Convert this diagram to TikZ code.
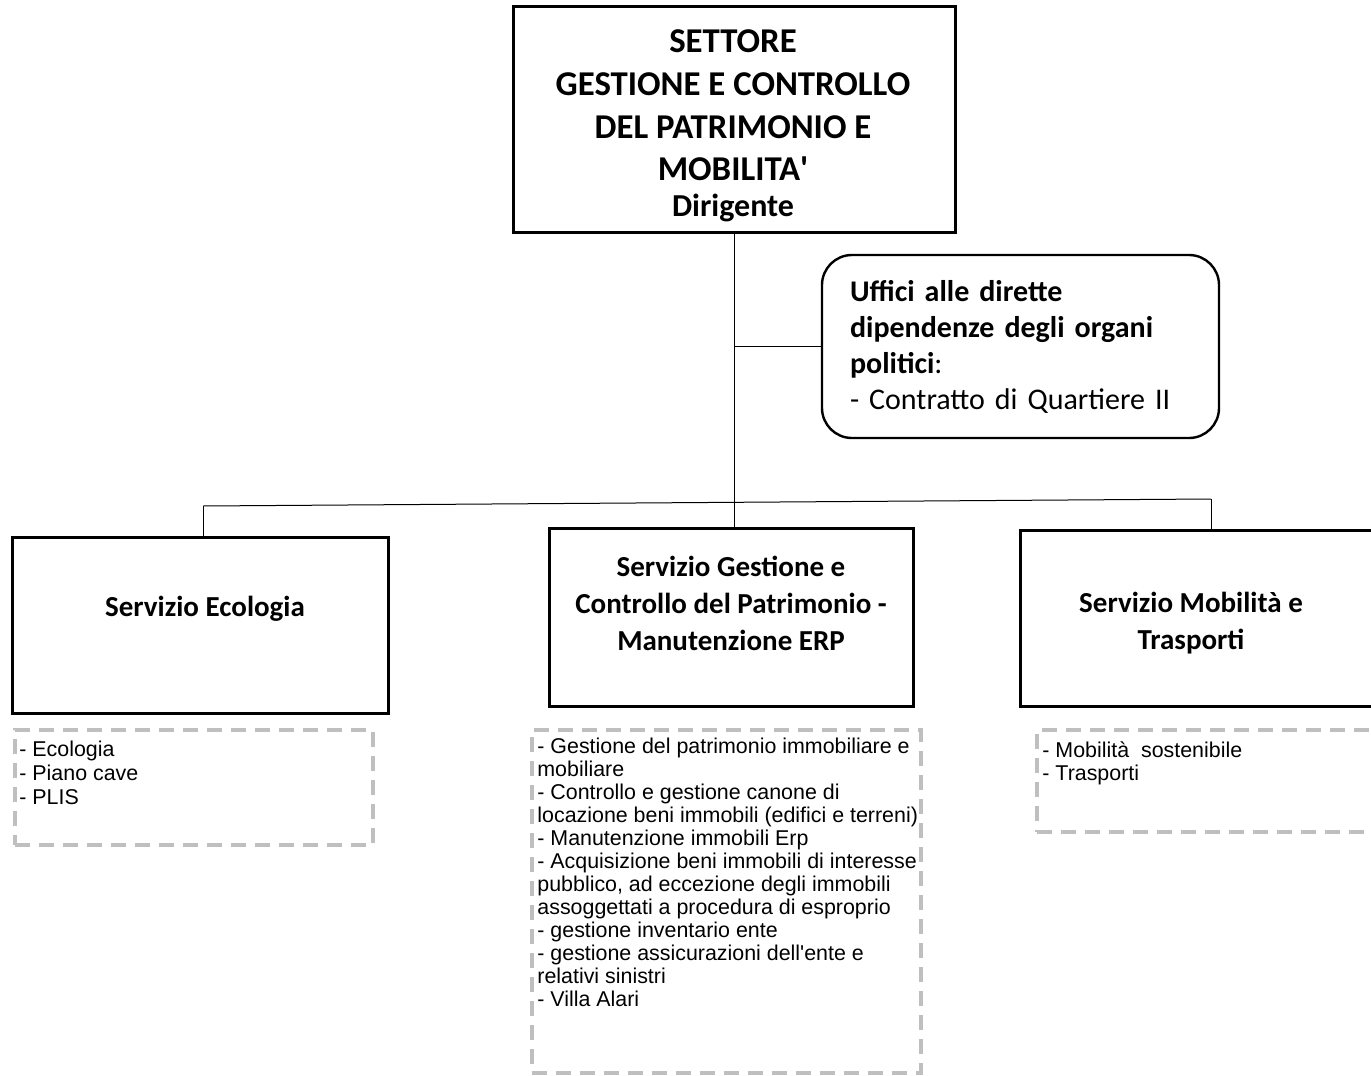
\documentclass[tikz,border=0pt]{standalone}
\usepackage{fontspec}
\setmainfont{Carlito}
\newfontfamily\arialfont{Liberation Sans}
\usetikzlibrary{positioning}

\definecolor{dashgray}{RGB}{191,191,191}

\tikzset{
  topbox/.style={draw, line width=1.5pt, minimum width=221pt, minimum height=113pt, inner sep=0pt},
  toptxt/.style={align=center, inner sep=0pt, font=\bfseries\fontsize{17.4}{21.3}\selectfont},
  uffbox/.style={draw, line width=1.2pt, rounded corners=15pt, inner xsep=14pt, inner ysep=0pt,
    text width=170.5pt, minimum height=91.5pt, align=left, font=\fontsize{15}{18}\selectfont},
  servbox/.style={draw, line width=1.5pt, minimum height=88pt, inner sep=0pt},
  servtxt/.style={align=center, inner sep=0pt, font=\bfseries\fontsize{14.5}{18.5}\selectfont},
  listbox/.style={draw=dashgray, line width=2pt, dash pattern=on 7.5pt off 4.5pt, inner sep=0pt},
  listtxt/.style={anchor=north west, align=left, inner sep=0pt, font=\arialfont\fontsize{10.7}{11.5}\selectfont},
  conn/.style={line width=0.5pt}
}

\begin{document}
\begin{tikzpicture}[x=0.5pt, y=-0.5pt]
\useasboundingbox (0,0) rectangle (1371,1076);
\clip (0,0) rectangle (1371,1076);

% settore e uffici di staff
\node[topbox] (settore) at (734,119) {};
\node[toptxt] (settore-t) at (733,126)
  {SETTORE\\GESTIONE E CONTROLLO\\DEL PATRIMONIO E\\MOBILITA\textquotesingle\\[-3.3pt]{\fontsize{16}{17}\selectfont Dirigente}};
\node[uffbox] (uffici) at (1020.5,346.5)
  {\textbf{Uffici alle dirette}\\\textbf{dipendenze degli organi}\\\textbf{politici}:\\- Contratto di Quartiere II};

% servizi
\node[servbox, minimum width=188pt] (ecologia) at (200,625) {};
\node[servtxt] (ecologia-t) at (205,609) {Servizio Ecologia};
\node[servbox, minimum width=182pt, minimum height=89pt] (patrimonio) at (731,617) {};
\node[servtxt] (patrimonio-t) at (731,603) {Servizio Gestione e\\Controllo del Patrimonio -\\Manutenzione ERP};
\node[servbox, minimum width=180pt] (mobilita) at (1200,618) {};
\node[servtxt] (mobilita-t) at (1191,623) {Servizio Mobilità e\\Trasporti};

% competenze
\node[listbox, minimum width=179pt, minimum height=57.5pt] (ecologia-l) at (194,787.5) {};
\node[listtxt, font=\arialfont\fontsize{10.7}{12}\selectfont] (ecologia-v) at (19,741) {- Ecologia\\- Piano cave\\- PLIS};
\node[listbox, minimum width=194.5pt, minimum height=171.5pt] (patrimonio-l) at (726.5,901.5) {};
\node[listtxt] (patrimonio-v) at (537,738)
  {- Gestione del patrimonio immobiliare e\\mobiliare\\- Controllo e gestione canone di\\locazione beni immobili (edifici e terreni)\\- Manutenzione immobili Erp\\- Acquisizione beni immobili di interesse\\pubblico, ad eccezione degli immobili\\assoggettati a procedura di esproprio\\- gestione inventario ente\\- gestione assicurazioni dell'ente e\\relativi sinistri\\- Villa Alari};
\node[listbox, minimum width=171.5pt, minimum height=51pt] (mobilita-l) at (1208.5,781) {};
\node[listtxt] (mobilita-v) at (1042,741) {- Mobilità\ \ sostenibile\\- Trasporti};

% collegamenti
\coordinate (split-l) at (203,506);
\coordinate (split-r) at (1211,499);
\draw[conn] (settore.south) -- (settore.south |- patrimonio.north);
\draw[conn] (settore.south |- uffici.west) -- (uffici.west);
\draw[conn] (split-l) -- (split-r);
\draw[conn] (split-l) -- (split-l |- ecologia.north);
\draw[conn] (split-r) -- (split-r |- mobilita.north);
\end{tikzpicture}
\end{document}
